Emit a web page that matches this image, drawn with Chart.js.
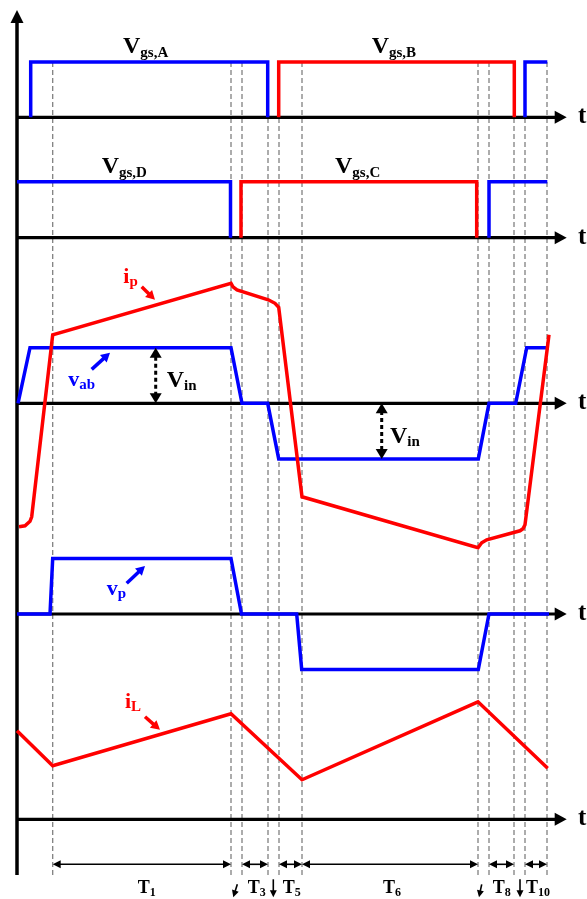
<!DOCTYPE html>
<html>
<head>
<meta charset="utf-8">
<script src="https://cdn.jsdelivr.net/npm/chart.js@4.4.1/dist/chart.umd.min.js"></script>
<style>
  html, body { margin: 0; padding: 0; background: #fff; }
  #wrap { width: 587px; height: 899px; position: relative; }
</style>
</head>
<body>
<div id="wrap"><canvas id="waveCanvas"></canvas></div>
<script>
// switching instants (time units), one dashed guide each
var instants = [3.57, 21.4, 22.5, 25.1, 26.2, 28.5, 46.1, 47.2, 49.7, 50.8, 53.0];

// gate drive signals, 0 = off, 1 = on
var gsA1T = [1.37, 1.37, 25.07, 25.07];
var gsA1V = [0, 1, 1, 0];
var gsA2T = [50.8, 50.8, 53.03];
var gsA2V = [0, 1, 1];
var gsBT = [26.17, 26.17, 49.73, 49.73];
var gsBV = [0, 1, 1, 0];
var gsD1T = [0, 21.35, 21.35];
var gsD1V = [1, 1, 0];
var gsD2T = [47.2, 47.2, 53.03];
var gsD2V = [0, 1, 1];
var gsCT = [22.4, 22.4, 45.97, 45.97];
var gsCV = [0, 1, 1, 0];

// bridge voltage v_ab, in units of Vin
var vabT = [0.1, 1.3, 21.4, 22.5, 25.07, 26.17, 46.13, 47.2, 49.87, 50.97, 53.2];
var vabV = [0, 1, 1, 0, 0, -1, -1, 0, 0, 1, 1];

// primary current i_p
var ipT = [0.2, 0.8, 1.3, 1.47, 3.57, 21.4, 21.6, 22.0, 25.13, 25.8, 26.17, 28.5, 46.1, 46.47, 46.97, 50.3, 50.6, 50.8, 53.2];
var ipV = [-2.47, -2.45, -2.36, -2.27, 1.37, 2.40, 2.33, 2.27, 2.07, 2.0, 1.92, -1.87, -2.89, -2.79, -2.73, -2.55, -2.51, -2.43, 1.37];

// transformer primary voltage v_p
var vpT = [0, 3.3, 3.57, 21.4, 22.45, 27.97, 28.47, 46.13, 47.2, 53.2];
var vpV = [0, 0, 1, 1, 0, 0, -1, -1, 0, 0];

// inductor current i_L
var iLT = [0, 3.57, 21.4, 28.5, 46.1, 53.07];
var iLV = [1.77, 1.07, 2.11, 0.79, 2.35, 1.02];

// interval annotations along the bottom
var spanStart = [3.57, 22.5, 26.2, 28.5, 47.2, 50.8];
var spanEnd = [21.4, 25.1, 28.5, 46.1, 49.7, 53.0];
var spanNames = ['1', '3', '5', '6', '8', '10'];
var spanLabelT = [12.97, 23.97, 27.47, 37.5, 48.47, 52.1];

var H = 899;
var BLUE = '#0000ff';
var RED = '#ff0000';
var FONT = '"Liberation Serif", "Times New Roman", serif';

// y range that puts value 0 at basePx, one unit = unitPx
function band(basePx, unitPx) {
    var max = basePx / unitPx;
    return { type: 'linear', display: false, min: max - H / unitPx, max: max };
}

function pts(ts, vs) {
    return ts.map(function (t, i) { return { x: t, y: vs[i] }; });
}

function trace(ts, vs, axis, color) {
    return {
        data: pts(ts, vs),
        yAxisID: axis,
        borderColor: color,
        borderWidth: 3.5,
        pointRadius: 0,
        fill: false,
        tension: 0,
        clip: false
    };
}

function arrowHead(ctx, x1, y1, x2, y2, len, half) {
    var a = Math.atan2(y2 - y1, x2 - x1);
    ctx.beginPath();
    ctx.moveTo(x2, y2);
    ctx.lineTo(x2 - len * Math.cos(a) + half * Math.sin(a), y2 - len * Math.sin(a) - half * Math.cos(a));
    ctx.lineTo(x2 - len * Math.cos(a) - half * Math.sin(a), y2 - len * Math.sin(a) + half * Math.cos(a));
    ctx.closePath();
    ctx.fill();
}

function arrow(ctx, x1, y1, x2, y2, color, lw, len, half) {
    var a = Math.atan2(y2 - y1, x2 - x1);
    ctx.strokeStyle = color;
    ctx.fillStyle = color;
    ctx.lineWidth = lw;
    ctx.beginPath();
    ctx.moveTo(x1, y1);
    ctx.lineTo(x2 - (len - 1) * Math.cos(a), y2 - (len - 1) * Math.sin(a));
    ctx.stroke();
    arrowHead(ctx, x1, y1, x2, y2, len, half);
}

function label(ctx, x, y, main, sub, color, mainSize, subSize, drop, center) {
    ctx.fillStyle = color;
    ctx.textBaseline = 'alphabetic';
    ctx.textAlign = 'left';
    ctx.font = 'bold ' + mainSize + 'px ' + FONT;
    var w1 = ctx.measureText(main).width;
    ctx.font = 'bold ' + subSize + 'px ' + FONT;
    var w2 = ctx.measureText(sub).width;
    if (center) x -= (w1 + w2) / 2;
    ctx.font = 'bold ' + mainSize + 'px ' + FONT;
    ctx.fillText(main, x, y);
    ctx.font = 'bold ' + subSize + 'px ' + FONT;
    ctx.fillText(sub, x + w1, y + drop);
}

var axesIds = ['yG1', 'yG2', 'yV', 'yP', 'yL'];

var diagram = {
    id: 'diagram',
    beforeDatasetsDraw: function (chart) {
        var ctx = chart.ctx;
        var X = function (t) { return chart.scales.x.getPixelForValue(t); };
        var Y = function (id, v) { return chart.scales[id].getPixelForValue(v); };
        var top = Y('yG1', 1), bottom = Y('yL', -1.116);

        ctx.save();
        ctx.strokeStyle = '#808080';
        ctx.lineWidth = 1.3;
        ctx.setLineDash([5, 3]);
        instants.forEach(function (t) {
            ctx.beginPath();
            ctx.moveTo(X(t), top);
            ctx.lineTo(X(t), bottom);
            ctx.stroke();
        });
        ctx.setLineDash([]);

        // time axes
        ctx.fillStyle = '#000';
        axesIds.forEach(function (id) {
            var y = Y(id, 0);
            arrow(ctx, X(0), y, X(54.97), y, '#000', 3.2, 12, 6.5);
            ctx.font = 'bold 25px ' + FONT;
            ctx.textAlign = 'left';
            ctx.textBaseline = 'alphabetic';
            ctx.fillText('t', X(56.1), y + 6);
        });

        // vertical axis
        arrow(ctx, X(0), bottom, X(0), Y('yG1', 1.94), '#000', 3.5, 13, 6.5);
        ctx.restore();
    },
    afterDatasetsDraw: function (chart) {
        var ctx = chart.ctx;
        var X = function (t) { return chart.scales.x.getPixelForValue(t); };
        var Y = function (id, v) { return chart.scales[id].getPixelForValue(v); };
        ctx.save();

        label(ctx, X(10.6), Y('yG1', 1.157), 'V', 'gs,A', '#000', 24, 15, 4);
        label(ctx, X(35.47), Y('yG1', 1.157), 'V', 'gs,B', '#000', 24, 15, 4);
        label(ctx, X(8.47), Y('yG2', 1.15), 'V', 'gs,D', '#000', 24, 15, 4);
        label(ctx, X(31.8), Y('yG2', 1.15), 'V', 'gs,C', '#000', 24, 15, 4);

        label(ctx, X(10.63), Y('yI', 2.4), 'i', 'p', RED, 22, 15, 3);
        arrow(ctx, X(12.47), Y('yI', 2.33), X(13.8), Y('yI', 2.07), RED, 3.5, 9, 5);

        label(ctx, X(5.13), Y('yV', 0.31), 'v', 'ab', BLUE, 22, 15, 3);
        arrow(ctx, X(7.47), Y('yV', 0.61), X(9.3), Y('yV', 0.91), BLUE, 3.5, 9, 5);

        // Vin amplitude markers
        [[13.87, 1], [36.47, -1]].forEach(function (m) {
            var x = X(m[0]), y0 = Y('yV', 0), y1 = Y('yV', m[1]);
            var dir = y1 < y0 ? 1 : -1;
            ctx.strokeStyle = '#000';
            ctx.fillStyle = '#000';
            ctx.lineWidth = 3;
            ctx.setLineDash([4, 3]);
            ctx.beginPath();
            ctx.moveTo(x, y1 + dir * 9);
            ctx.lineTo(x, y0 - dir * 9);
            ctx.stroke();
            ctx.setLineDash([]);
            arrowHead(ctx, x, y0, x, y1, 10, 6);
            arrowHead(ctx, x, y1, x, y0, 10, 6);
        });
        label(ctx, X(14.97), Y('yV', 0.30), 'V', 'in', '#000', 24, 15, 3);
        label(ctx, X(37.3), Y('yV', -0.71), 'V', 'in', '#000', 24, 15, 3);

        label(ctx, X(8.97), Y('yP', 0.34), 'v', 'p', BLUE, 22, 15, 3);
        arrow(ctx, X(10.97), Y('yP', 0.553), X(12.8), Y('yP', 0.865), BLUE, 3.5, 9, 5);

        label(ctx, X(10.8), Y('yL', 2.22), 'i', 'L', RED, 22, 15, 3);
        arrow(ctx, X(12.8), Y('yL', 2.05), X(14.3), Y('yL', 1.79), RED, 3.5, 9, 5);

        // interval dimension arrows
        var yd = Y('yL', -0.9);
        spanStart.forEach(function (s, i) {
            var a = X(s), b = X(spanEnd[i]);
            ctx.strokeStyle = '#000';
            ctx.fillStyle = '#000';
            ctx.lineWidth = 1.6;
            ctx.beginPath();
            ctx.moveTo(a + 5, yd);
            ctx.lineTo(b - 5, yd);
            ctx.stroke();
            arrowHead(ctx, b, yd, a, yd, 8, 4);
            arrowHead(ctx, a, yd, b, yd, 8, 4);
            label(ctx, X(spanLabelT[i]), Y('yL', -1.47), 'T', spanNames[i], '#000', 18, 12, 3, true);
        });

        // short intervals marked with small arrows only
        arrow(ctx, X(22.03), Y('yL', -1.3), X(21.63), Y('yL', -1.56), '#000', 1.6, 7, 3.5);
        arrow(ctx, X(25.63), Y('yL', -1.2), X(25.63), Y('yL', -1.56), '#000', 1.6, 7, 3.5);
        arrow(ctx, X(46.47), Y('yL', -1.3), X(46.2), Y('yL', -1.56), '#000', 1.6, 7, 3.5);
        arrow(ctx, X(50.3), Y('yL', -1.2), X(50.3), Y('yL', -1.56), '#000', 1.6, 7, 3.5);

        ctx.restore();
    }
};

new Chart(document.getElementById('waveCanvas'), {
    type: 'line',
    data: {
        datasets: [
            trace(ipT, ipV, 'yI', RED),
            trace(iLT, iLV, 'yL', RED),
            trace(gsBT, gsBV, 'yG1', RED),
            trace(gsCT, gsCV, 'yG2', RED),
            trace(vabT, vabV, 'yV', BLUE),
            trace(vpT, vpV, 'yP', BLUE),
            trace(gsA1T, gsA1V, 'yG1', BLUE),
            trace(gsA2T, gsA2V, 'yG1', BLUE),
            trace(gsD1T, gsD1V, 'yG2', BLUE),
            trace(gsD2T, gsD2V, 'yG2', BLUE)
        ]
    },
    options: {
        responsive: true,
        maintainAspectRatio: false,
        animation: false,
        events: [],
        layout: { padding: { left: 17, right: 21, top: 0, bottom: 0 } },
        plugins: { legend: { display: false }, tooltip: { enabled: false } },
        scales: {
            x: { type: 'linear', display: false, min: 0, max: 54.9 },
            yG1: band(117.3, 55.3),
            yG2: band(237.7, 56),
            yV: band(403.3, 55.6),
            yI: band(403.3, 50),
            yP: band(614, 55.5),
            yL: band(819.3, 50)
        }
    },
    plugins: [diagram]
});
</script>
</body>
</html>
